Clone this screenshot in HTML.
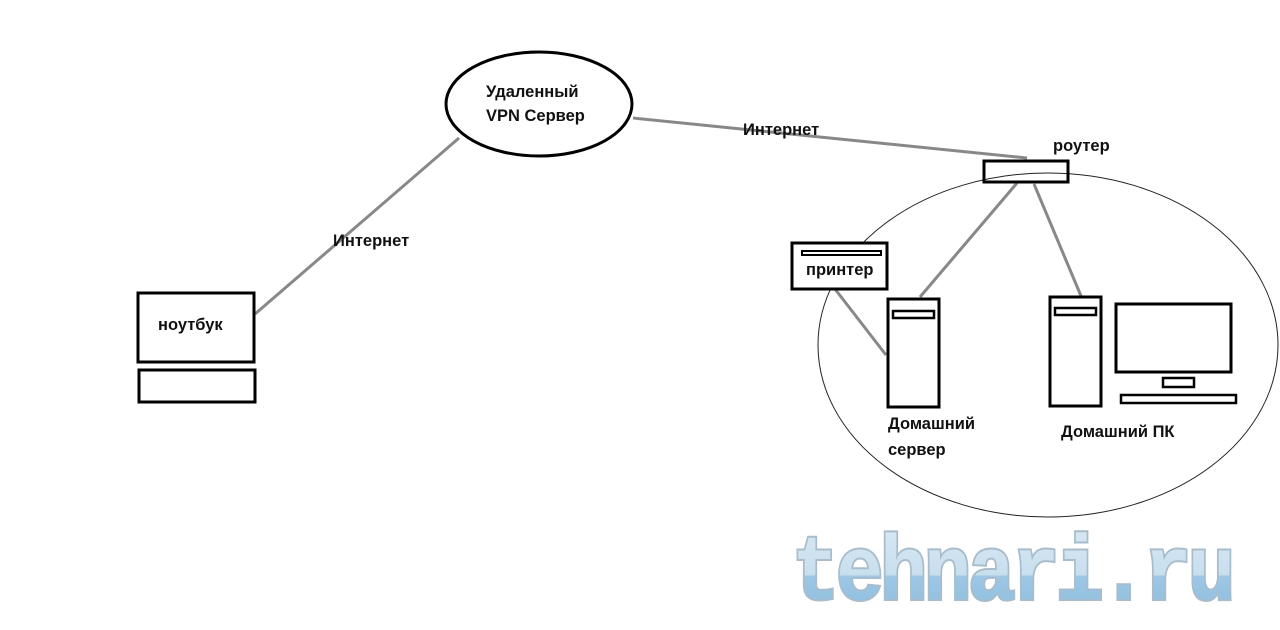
<!DOCTYPE html>
<html><head><meta charset="utf-8"><style>
html,body{margin:0;padding:0;background:#fff;width:1280px;height:630px;overflow:hidden}
text{font-family:"Liberation Sans","DejaVu Sans",sans-serif;font-weight:bold;font-size:16.5px;fill:#111}
</style></head><body>
<svg width="1280" height="630" xmlns="http://www.w3.org/2000/svg">
<g fill="none" stroke="#888" stroke-width="3">
<line x1="255" y1="314" x2="459" y2="138"/>
<line x1="633" y1="118" x2="1027" y2="158"/>
<line x1="1017" y1="183" x2="920" y2="297"/>
<line x1="1034" y1="184" x2="1081" y2="296"/>
<line x1="835" y1="289" x2="886" y2="355"/>
</g>
<ellipse cx="1048" cy="345" rx="230" ry="172" fill="none" stroke="#222" stroke-width="1"/>
<g fill="none" stroke="#000" stroke-width="3">
<ellipse cx="539" cy="104" rx="93" ry="52"/>
<rect x="138" y="293" width="116" height="69" fill="#fff"/>
<rect x="139" y="370" width="116" height="32"/>
<rect x="984" y="161" width="84" height="21"/>
<rect x="792" y="243" width="95" height="46" fill="#fff"/>
<rect x="802" y="251" width="79" height="4" stroke-width="2"/>
<rect x="888" y="299" width="51" height="108"/>
<rect x="893" y="311" width="41" height="7" stroke-width="2.5"/>
<rect x="1050" y="297" width="51" height="109"/>
<rect x="1055" y="308" width="41" height="7" stroke-width="2.5"/>
<rect x="1116" y="304" width="115" height="68"/>
<rect x="1163" y="378" width="31" height="9" stroke-width="2.5"/>
<rect x="1121" y="395" width="115" height="8" stroke-width="2.5"/>
</g>
<text x="486" y="97">Удаленный</text>
<text x="486" y="121">VPN Сервер</text>
<text x="333" y="246">Интернет</text>
<text x="743" y="135">Интернет</text>
<text x="1053" y="151">роутер</text>
<text x="158" y="330">ноутбук</text>
<text x="806" y="275">принтер</text>
<text x="888" y="429">Домашний</text>
<text x="888" y="455">сервер</text>
<text x="1061" y="437">Домашний ПК</text>
<defs><linearGradient id="g" x1="0" y1="0" x2="0" y2="1">
<stop offset="0" stop-color="#d9e8f3"/><stop offset="0.5" stop-color="#c8dfee"/><stop offset="0.52" stop-color="#9cc6e4"/><stop offset="1" stop-color="#8dbde0"/></linearGradient></defs>
<text x="792" y="599" style="font-family:'Liberation Mono',monospace;font-size:92px;font-weight:bold;fill:url(#g);stroke:#a8bccb;stroke-width:4;paint-order:stroke;letter-spacing:-4px" textLength="440" lengthAdjust="spacingAndGlyphs">tehnari.ru</text>
</svg>
</body></html>
